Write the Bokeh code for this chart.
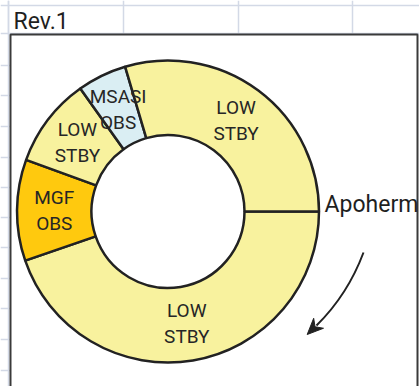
import numpy as np
from bokeh.plotting import figure
from bokeh.models import Range1d, ColumnDataSource
from bokeh.core.properties import value
from bokeh.embed import file_html
from bokeh.resources import INLINE

# ---- data (clockwise from the Apoherm line) ----
segment_labels = ["LOW\nSTBY", "MGF\nOBS", "LOW\nSTBY", "MSASI\nOBS", "LOW\nSTBY"]
segment_values = [161.0, 39.0, 34.5, 19.0, 106.5]
segment_colors = ["#F8F29E", "#FFC90E", "#F8F29E", "#DAEEF3", "#F8F29E"]
title_text = "Rev.1"
marker_text = "Apoherm"

# ---- layout helpers (reference pixel coords -> data coords) ----
W, H = 419, 386
def Y(yr):
    return H - yr

cx, cy = 167.5, Y(211)
R_OUT, R_IN = 151, 76.5

p = figure(width=W, height=H, output_backend="svg", toolbar_location=None,
           x_range=Range1d(0, W), y_range=Range1d(0, H),
           min_border=0, outline_line_color=None)
p.axis.visible = False
p.grid.visible = False
p.background_fill_color = "white"
p.border_fill_color = "white"

grid_col = "#D3D9E6"
# spreadsheet grid above / left of the box
for gx in [8, 123, 238, 352]:
    p.line([gx, gx], [Y(0), Y(34)], line_color=grid_col, line_width=1.5)
p.line([8, 8], [Y(0), Y(386)], line_color=grid_col, line_width=1.5)
for gy in [5, 33]:
    p.line([0, 419], [Y(gy), Y(gy)], line_color=grid_col, line_width=1.5)
for gy in [65, 95, 126, 157, 187, 217, 247, 278, 308, 339, 370]:
    p.line([0, 10], [Y(gy), Y(gy)], line_color=grid_col, line_width=1.5)

p.text([13], [Y(20.5)], text=[title_text], text_font=value("Roboto"),
       text_font_size="23px", text_color="#1f1f1f",
       text_align="left", text_baseline="middle")

# chart box
p.quad(left=[10], right=[417], top=[Y(34)], bottom=[Y(400)],
       fill_color="white", line_color="#3a3a3a", line_width=2)

# donut
vals = np.array(segment_values)
total = vals.sum()
cum = np.cumsum(vals)
prev = cum - vals
start = -cum / total * 2 * np.pi
end = -prev / total * 2 * np.pi
mid = -(prev + vals / 2) / total * 2 * np.pi
rm = (R_OUT + R_IN) / 2
src = ColumnDataSource(dict(start=start, end=end, color=segment_colors,
                            lx=cx + rm * np.cos(mid), ly=cy + rm * np.sin(mid),
                            label=segment_labels))
p.annular_wedge(x=cx, y=cy, inner_radius=R_IN, outer_radius=R_OUT,
                start_angle="start", end_angle="end", direction="anticlock",
                fill_color="color", line_color="#222222", line_width=2.5,
                source=src)
p.text(x="lx", y="ly", text="label", source=src, text_font=value("Roboto"),
       text_font_size="19px", text_color="#262626", text_align="center",
       text_baseline="middle", text_line_height=1.15)

p.text([324], [Y(203.5)], text=[marker_text], text_font=value("Roboto"),
       text_font_size="23px", text_color="#1f1f1f",
       text_align="left", text_baseline="middle")

# direction arrow
p0 = (363, 252); c1 = (352.8, 279.3); c2 = (336.6, 304.7); p3 = (316, 325)
p.bezier(x0=[p0[0]], y0=[Y(p0[1])], x1=[p3[0]], y1=[Y(p3[1])],
         cx0=[c1[0]], cy0=[Y(c1[1])], cx1=[c2[0]], cy1=[Y(c2[1])],
         line_color="#222222", line_width=2)
tip = np.array([306.7, 334.0])
d = np.array([-0.71, 0.70]); d = d / np.linalg.norm(d)
n = np.array([d[1], -d[0]])
back = tip - 16 * d
notch = tip - 11 * d
pts = [tip, back + 7 * n, notch, back - 7 * n]
p.patch([q[0] for q in pts], [Y(q[1]) for q in pts], fill_color="#222222",
        line_color="#222222", line_width=1)

open("out.html", "w").write(file_html(p, INLINE))
